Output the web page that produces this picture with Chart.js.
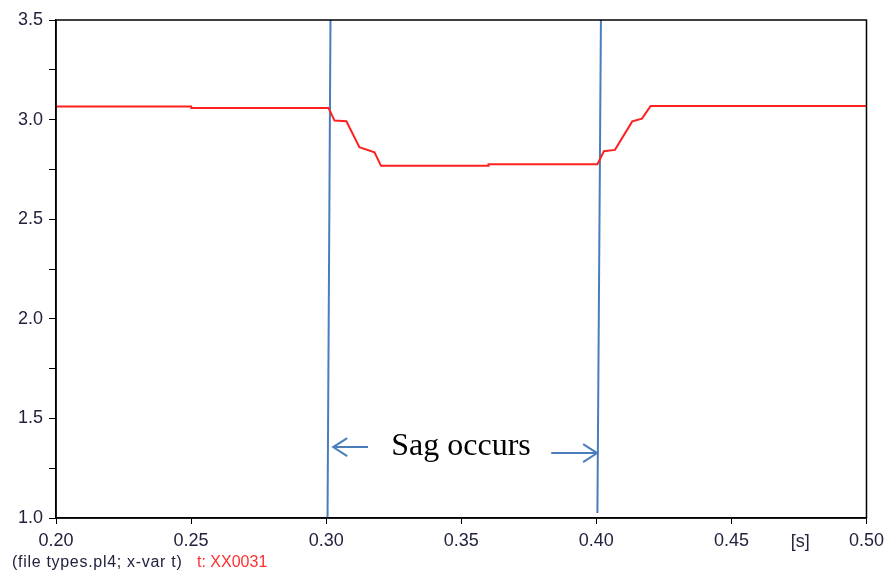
<!DOCTYPE html>
<html>
<head>
<meta charset="utf-8">
<script src="https://cdn.jsdelivr.net/npm/chart.js@4/dist/chart.umd.min.js"></script>
<style>
  html, body { margin: 0; padding: 0; background: #fff; }
  #wrap { width: 890px; height: 574px; }
</style>
</head>
<body>
<div id="wrap"><canvas id="canvas"></canvas></div>
<script>
// voltage trace (XX0031) vs time [s]
var time    = [0.200, 0.250, 0.2501, 0.3009, 0.3031, 0.3075, 0.3123, 0.3179, 0.3203, 0.3600, 0.3601, 0.4004, 0.4028, 0.4069, 0.4133, 0.4169, 0.4201, 0.500];
var voltage = [3.066, 3.066, 3.058, 3.058, 2.995, 2.992, 2.861, 2.836, 2.768, 2.768, 2.776, 2.776, 2.841, 2.848, 2.991, 3.005, 3.068, 3.068];

// hand drawn sag markers: [x at top, x at bottom], [y top, y bottom]
var markerA = [0.3016, 0.3005];
var markerAy = [3.5, 1.0];
var markerB = [0.4017, 0.4004];
var markerBy = [3.5, 1.025];

// arrows + label
var arrowLeft  = { from: 0.3155, to: 0.3026, y: 1.356 };
var arrowRight = { from: 0.3833, to: 0.4003, y: 1.326 };
var sagLabel   = { text: 'Sag occurs', x: 0.3241, y: 1.36 };

var xTicks = [0.20, 0.25, 0.30, 0.35, 0.40, 0.45, 0.50];

var points = [];
for (var i = 0; i < time.length; i++) points.push({ x: time[i], y: voltage[i] });

var tickColor = '#22223f';
var blue = '#4a7ebb';
var sans = '"Liberation Sans", Arial, sans-serif';

var overlay = {
  id: 'overlay',
  afterDatasetsDraw: function (chart) {
    var ctx = chart.ctx, a = chart.chartArea;
    var xs = chart.scales.x, ys = chart.scales.y;
    ctx.save();
    // frame top/right
    ctx.strokeStyle = '#000';
    ctx.lineWidth = 1.5;
    ctx.strokeRect(a.left, a.top, a.right - a.left, a.bottom - a.top);

    // arrows
    ctx.strokeStyle = blue;
    ctx.lineWidth = 2;
    [arrowLeft, arrowRight].forEach(function (ar) {
      var x1 = xs.getPixelForValue(ar.from), x2 = xs.getPixelForValue(ar.to);
      var y = ys.getPixelForValue(ar.y);
      var dir = x2 > x1 ? -1 : 1;
      ctx.beginPath();
      ctx.moveTo(x1, y); ctx.lineTo(x2, y);
      ctx.moveTo(x2 + dir * 14, y - 9); ctx.lineTo(x2, y); ctx.lineTo(x2 + dir * 14, y + 9);
      ctx.stroke();
    });

    // label
    ctx.fillStyle = '#000';
    ctx.font = '32px "Liberation Serif", "DejaVu Serif", serif';
    ctx.textBaseline = 'middle';
    ctx.textAlign = 'left';
    ctx.fillText(sagLabel.text, xs.getPixelForValue(sagLabel.x), ys.getPixelForValue(sagLabel.y));

    // unit + footer
    ctx.font = '18px ' + sans;
    ctx.fillStyle = tickColor;
    ctx.textAlign = 'center';
    ctx.fillText('[s]', xs.getPixelForValue(0.4755), a.bottom + 24);
    ctx.font = '16px ' + sans;
    ctx.textAlign = 'left';
    ctx.letterSpacing = '0.7px';
    ctx.fillText('(file types.pl4; x-var t)', 12, 563);
    ctx.letterSpacing = '0px';
    ctx.fillStyle = '#ff3030';
    ctx.fillText('t: XX0031', 197, 563);
    ctx.restore();
  }
};

new Chart(document.getElementById('canvas'), {
  type: 'line',
  data: {
    datasets: [
      { data: points, borderColor: '#ff2020', borderWidth: 2, pointRadius: 0, tension: 0 },
      { data: [{ x: markerA[0], y: markerAy[0] }, { x: markerA[1], y: markerAy[1] }], borderColor: blue, borderWidth: 2, pointRadius: 0 },
      { data: [{ x: markerB[0], y: markerBy[0] }, { x: markerB[1], y: markerBy[1] }], borderColor: blue, borderWidth: 2, pointRadius: 0 }
    ]
  },
  options: {
    responsive: true,
    maintainAspectRatio: false,
    animation: false,
    layout: { padding: { left: 0, right: 22, top: 20, bottom: 0 } },
    plugins: { legend: { display: false }, tooltip: { enabled: false } },
    scales: {
      x: {
        type: 'linear', min: 0.2, max: 0.5,
        afterBuildTicks: function (s) { s.ticks = xTicks.map(function (v) { return { value: v }; }); },
        afterFit: function (s) { s.height = 56; },
        grid: { drawOnChartArea: false, tickLength: 6, color: '#000' },
        border: { color: '#000', width: 1.5 },
        ticks: {
          color: tickColor, padding: 6, maxRotation: 0, autoSkip: false,
          font: { family: sans, size: 18 },
          callback: function (v) { return v.toFixed(2); }
        }
      },
      y: {
        min: 1.0, max: 3.5,
        afterFit: function (s) { s.width = 56; },
        grid: { drawOnChartArea: false, tickLength: 7, color: '#000' },
        border: { color: '#000', width: 1.5 },
        ticks: {
          stepSize: 0.25, color: tickColor, padding: 6,
          font: { family: sans, size: 18 },
          callback: function (v) { return Math.abs(v * 2 - Math.round(v * 2)) < 1e-6 ? v.toFixed(1) : ''; }
        }
      }
    }
  },
  plugins: [overlay]
});
</script>
</body>
</html>
